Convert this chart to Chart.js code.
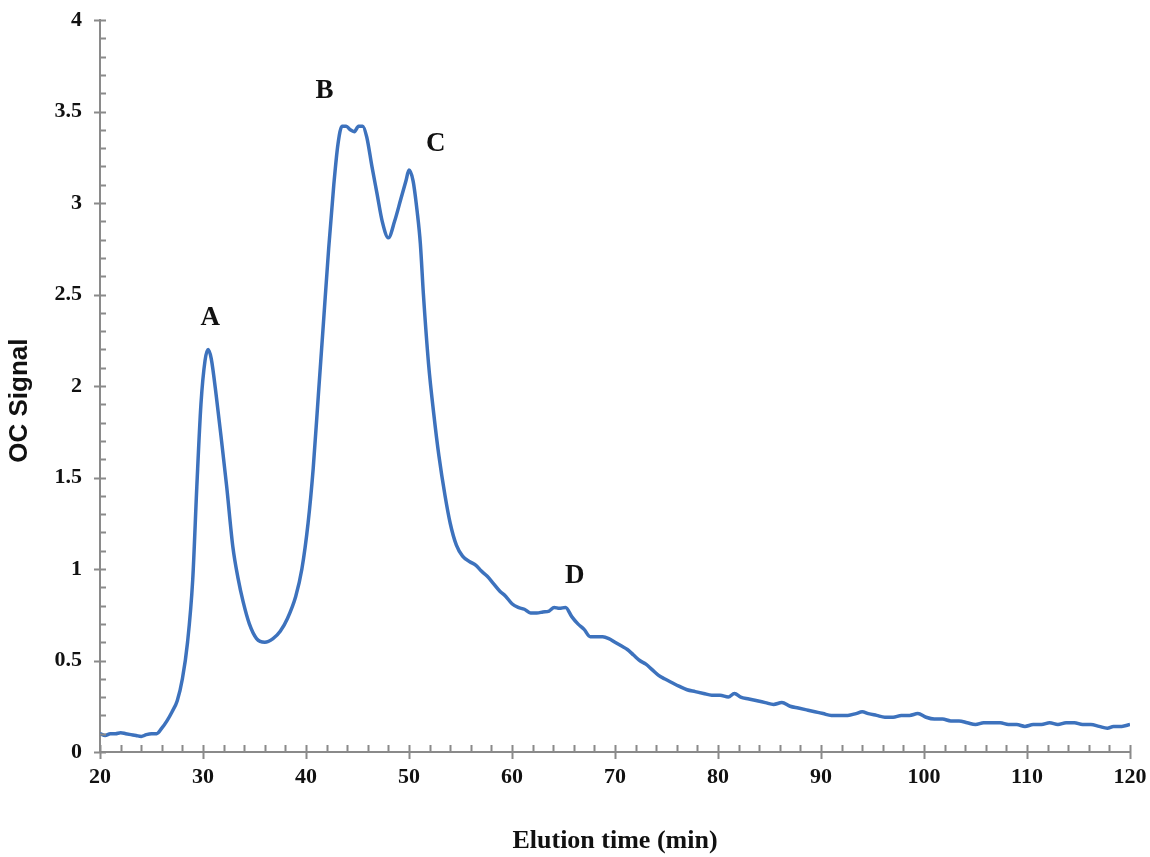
<!DOCTYPE html>
<html>
<head>
<meta charset="utf-8">
<script src="https://cdn.jsdelivr.net/npm/chart.js@4/dist/chart.umd.min.js"></script>
<style>
  html, body { margin: 0; padding: 0; background: #fff; }
  #wrap { width: 1150px; height: 857px; }
</style>
</head>
<body>
<div id="wrap"><canvas id="chromatogram"></canvas></div>
<script>
// elution time (min) and organic carbon signal
const elutionTimes = [
  20, 20.5, 21, 21.5, 22, 22.5, 23, 23.5, 24, 24.5, 25, 25.5, 26, 26.5, 27, 27.5,
  28, 28.5, 29, 29.4, 29.8, 30.2, 30.5, 30.8, 31.3, 31.8, 32.3, 32.9, 33.4, 33.9,
  34.5, 35.2, 36, 36.8, 37.5, 38.2, 39, 39.6, 40.2, 40.7, 41.2, 41.7, 42.2, 42.7,
  43.1, 43.5, 43.9, 44.3, 44.7, 45.1, 45.5, 45.9, 46.4, 46.9, 47.4, 48, 48.6, 49.2,
  49.7, 50, 50.4, 50.8, 51.1, 51.4, 51.9, 52.4, 52.9, 53.5, 54, 54.6, 55.2, 55.9,
  56.5, 57, 57.6, 58.2, 58.8, 59.4, 60, 60.6, 61.2, 61.8, 62.4, 63, 63.6, 64.1,
  64.6, 65.2, 65.8, 66.4, 67, 67.6, 68.2, 68.8, 69.4, 70, 70.6, 71.2, 71.8, 72.4,
  73, 73.6, 74.2, 74.8, 75.5, 76.2, 77, 77.8, 78.6, 79.4, 80.2, 81, 81.6, 82.2,
  83, 83.8, 84.6, 85.4, 86.2, 87, 87.8, 88.6, 89.4, 90.2, 91, 91.8, 92.6, 93.4,
  94, 94.6, 95.4, 96.2, 97, 97.8, 98.6, 99.4, 100.2, 101, 101.8, 102.6, 103.4,
  104.2, 105, 105.8, 106.6, 107.4, 108.2, 109, 109.8, 110.6, 111.4, 112.2, 113,
  113.8, 114.6, 115.4, 116.2, 117, 117.8, 118.4, 119.2, 120
];
const ocSignal = [
  0.10, 0.09, 0.10, 0.10, 0.105, 0.10, 0.095, 0.09, 0.085, 0.095, 0.10, 0.10, 0.13, 0.17, 0.22, 0.28,
  0.40, 0.60, 0.94, 1.45, 1.90, 2.14, 2.20, 2.15, 1.94, 1.70, 1.45, 1.12, 0.95, 0.82,
  0.70, 0.62, 0.60, 0.62, 0.66, 0.73, 0.85, 1.00, 1.25, 1.55, 1.95, 2.35, 2.75, 3.10,
  3.32, 3.42, 3.42, 3.40, 3.39, 3.42, 3.42, 3.36, 3.20, 3.05, 2.90, 2.81, 2.90, 3.02,
  3.12, 3.18, 3.12, 2.95, 2.78, 2.50, 2.12, 1.85, 1.62, 1.40, 1.25, 1.13, 1.07, 1.04,
  1.02, 0.99, 0.96, 0.92, 0.88, 0.85, 0.81, 0.79, 0.78, 0.76, 0.76, 0.765, 0.77, 0.79,
  0.785, 0.79, 0.74, 0.70, 0.67, 0.63, 0.63, 0.63, 0.62, 0.60, 0.58, 0.56, 0.53, 0.50,
  0.48, 0.45, 0.42, 0.40, 0.38, 0.36, 0.34, 0.33, 0.32, 0.31, 0.31, 0.30, 0.32, 0.30,
  0.29, 0.28, 0.27, 0.26, 0.27, 0.25, 0.24, 0.23, 0.22, 0.21, 0.20, 0.20, 0.20, 0.21,
  0.22, 0.21, 0.20, 0.19, 0.19, 0.20, 0.20, 0.21, 0.19, 0.18, 0.18, 0.17, 0.17,
  0.16, 0.15, 0.16, 0.16, 0.16, 0.15, 0.15, 0.14, 0.15, 0.15, 0.16, 0.15,
  0.16, 0.16, 0.15, 0.15, 0.14, 0.13, 0.14, 0.14, 0.15
];

// peak letters and where they sit
const peakNames = ["A", "B", "C", "D"];
const peakTimes = [30.7, 41.8, 52.6, 66.1];
const peakLevels = [2.37, 3.61, 3.32, 0.96];

const xTicks = [20, 30, 40, 50, 60, 70, 80, 90, 100, 110, 120];
const yTicks = [0, 0.5, 1, 1.5, 2, 2.5, 3, 3.5, 4];

const axisGray = "#8a8a8a";
const serif = "'Liberation Serif', 'Times New Roman', serif";

// tick marks: majors cross the axis, minors point into the plot
const axisTicks = {
  id: "axisTicks",
  afterDraw(chart) {
    const { ctx, scales: { x, y } } = chart;
    ctx.save();
    ctx.strokeStyle = axisGray;
    ctx.lineWidth = 2;
    ctx.beginPath();
    const x0 = x.left;
    for (let i = 0; i <= 40; i++) {
      const py = Math.round(y.getPixelForValue(i / 10)) + 0.5;
      const major = i % 5 === 0;
      ctx.moveTo(major ? x0 - 6 : x0, py);
      ctx.lineTo(x0 + 6, py);
    }
    const y0 = y.bottom;
    for (let t = 20; t <= 120; t += 2) {
      const px = Math.round(x.getPixelForValue(t)) + 0.5;
      const major = t % 10 === 0;
      ctx.moveTo(px, y0 - 7);
      ctx.lineTo(px, major ? y0 + 7 : y0);
    }
    ctx.stroke();
    ctx.restore();
  }
};

// peak letters, plus the vertical axis title sitting a little below centre
const peakLabels = {
  id: "peakLabels",
  afterDatasetsDraw(chart) {
    const { ctx, chartArea, scales: { x, y } } = chart;
    ctx.save();
    ctx.font = "bold 27px " + serif;
    ctx.fillStyle = "#111";
    ctx.textAlign = "center";
    ctx.textBaseline = "middle";
    peakNames.forEach((name, i) => {
      ctx.fillText(name, x.getPixelForValue(peakTimes[i]), y.getPixelForValue(peakLevels[i]));
    });

    ctx.translate(20, chartArea.top + (chartArea.bottom - chartArea.top) * 0.52);
    ctx.rotate(-Math.PI / 2);
    ctx.font = "bold 26px 'Liberation Sans', Arial, sans-serif";
    ctx.fillText("OC Signal", 0, 0);
    ctx.restore();
  }
};

// fixed axis boxes; let layout.padding alone set the plot edges
function noOverhang(scale) {
  scale.paddingTop = 0;
  scale.paddingBottom = 0;
  scale.paddingLeft = 0;
  scale.paddingRight = 0;
}

const points = elutionTimes.map((t, i) => ({ x: t, y: ocSignal[i] }));

new Chart(document.getElementById("chromatogram"), {
  type: "line",
  data: {
    datasets: [{
      data: points,
      borderColor: "#3d72bd",
      borderWidth: 3.5,
      pointRadius: 0,
      cubicInterpolationMode: "monotone",
      fill: false
    }]
  },
  options: {
    responsive: true,
    maintainAspectRatio: false,
    animation: false,
    events: [],
    layout: { padding: { top: 20, right: 20, left: 0, bottom: 0 } },
    plugins: { legend: { display: false }, tooltip: { enabled: false } },
    scales: {
      x: {
        type: "linear",
        min: 20,
        max: 120,
        afterFit(scale) { scale.height = 105; noOverhang(scale); },
        afterBuildTicks(scale) { scale.ticks = xTicks.map((v) => ({ value: v })); },
        grid: { display: false, drawTicks: false },
        border: { display: true, color: axisGray, width: 2 },
        ticks: {
          padding: 12,
          color: "#111",
          maxRotation: 0,
          font: { family: serif, size: 22, weight: "bold" }
        },
        title: {
          display: true,
          text: "Elution time (min)",
          color: "#111",
          padding: { top: 0, bottom: 0 },
          font: { family: serif, size: 26, weight: "bold" }
        }
      },
      y: {
        min: 0,
        max: 4,
        afterFit(scale) { scale.width = 100; noOverhang(scale); },
        afterBuildTicks(scale) { scale.ticks = yTicks.map((v) => ({ value: v })); },
        grid: { display: false, drawTicks: false },
        border: { display: true, color: axisGray, width: 2 },
        ticks: {
          padding: 18,
          color: "#111",
          callback: (v) => String(+v.toFixed(1)),
          font: { family: serif, size: 22, weight: "bold" }
        },
        title: { display: false }
      }
    }
  },
  plugins: [axisTicks, peakLabels]
});
</script>
</body>
</html>
